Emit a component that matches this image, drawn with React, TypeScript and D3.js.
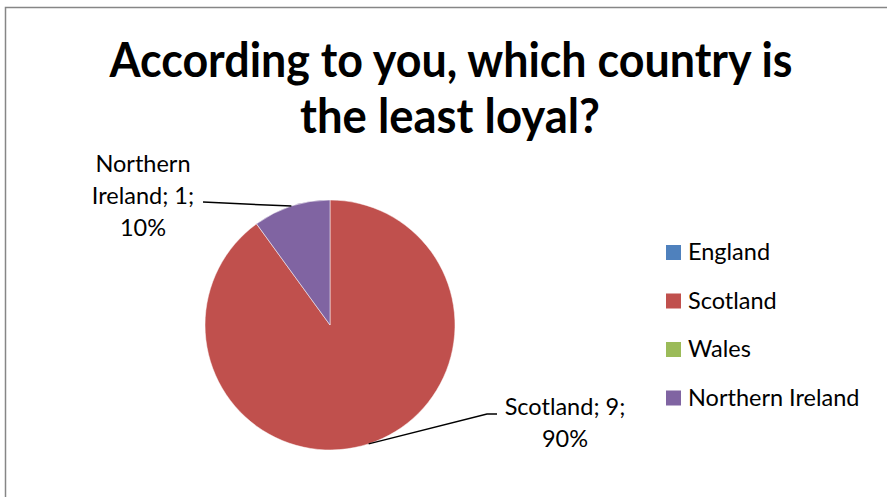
import React from "react";
import * as d3 from "d3";

const categories = ["England", "Scotland", "Wales", "Northern Ireland"];
const values = [0, 9, 0, 1];
const colors = ["#4F81BD", "#C0504D", "#9BBB59", "#8064A2"];
const titleLines = ["According to you, which country is", "the least loyal?"];

const W = 887;
const H = 497;
const cx = 330;
const cy = 325;
const R = 125;

// label layout (text center & elbow) per category index
const labelLayout: Record<number, { tx: number; ty: number; ex: number; ey: number }> = {
  3: { tx: 143, ty: 172, ex: 203, ey: 202 },
  1: { tx: 565, ty: 415, ex: 497, ey: 414 },
};

export default function App() {
  const total = d3.sum(values);
  const pie = d3.pie<number>().sort(null).value((v) => v)(values);
  const arc = d3.arc<d3.PieArcDatum<number>>().innerRadius(0).outerRadius(R);
  const font = "Lato, 'Open Sans', sans-serif";

  return (
    <svg width={W} height={H} style={{ position: "absolute", left: 0, top: 0, background: "#fff" }}>
      <rect x={5.5} y={7.5} width={W + 20} height={H + 20} fill="#fff" stroke="#868686" strokeWidth={1.5} />
      <g fontFamily={font} fontWeight="bold" fontSize={47} fill="#000" textAnchor="middle">
        <text x={451} y={77} textLength={683} lengthAdjust="spacingAndGlyphs">{titleLines[0]}</text>
        <text x={450} y={133} textLength={300} lengthAdjust="spacingAndGlyphs">{titleLines[1]}</text>
      </g>
      <g transform={`translate(${cx},${cy})`}>
        {pie.map((p, i) =>
          p.value > 0 ? (
            <path key={i} d={arc(p) || ""} fill={colors[i]} stroke="#fff" strokeWidth={0.5} />
          ) : null
        )}
      </g>
      {pie.map((p, i) => {
        const L = labelLayout[i];
        if (!L || p.value <= 0) return null;
        const mid = (p.startAngle + p.endAngle) / 2;
        const ax = cx + R * Math.sin(mid);
        const ay = cy - R * Math.cos(mid);
        const pct = Math.round((p.value / total) * 100);
        const lines = i === 3 ? ["Northern", `Ireland; ${p.value};`, `${pct}%`] : [`${categories[i]}; ${p.value};`, `${pct}%`];
        const isLeft = L.ex < ax;
        return (
          <g key={i}>
            {isLeft ? (
              <polyline points={`${L.ex},${L.ey} ${ax},${ay}`} fill="none" stroke="#000" strokeWidth={1.5} />
            ) : (
              <polyline points={`${ax},${ay} ${L.ex - 10},${L.ey} ${L.ex},${L.ey}`} fill="none" stroke="#000" strokeWidth={1.5} />
            )}
            <text fontFamily={font} fontSize={23.5} textAnchor="middle" fill="#000">
              {lines.map((t, k) => (
                <tspan key={k} x={L.tx} y={L.ty + k * 32}>{t}</tspan>
              ))}
            </text>
          </g>
        );
      })}
      <g fontFamily={font} fontSize={23.5} fill="#000">
        {categories.map((c, i) => (
          <g key={c} transform={`translate(666,${245 + i * 48.5})`}>
            <rect x={0} y={0} width={15} height={15} fill={colors[i]} />
            <text x={22} y={15}>{c}</text>
          </g>
        ))}
      </g>
    </svg>
  );
}
